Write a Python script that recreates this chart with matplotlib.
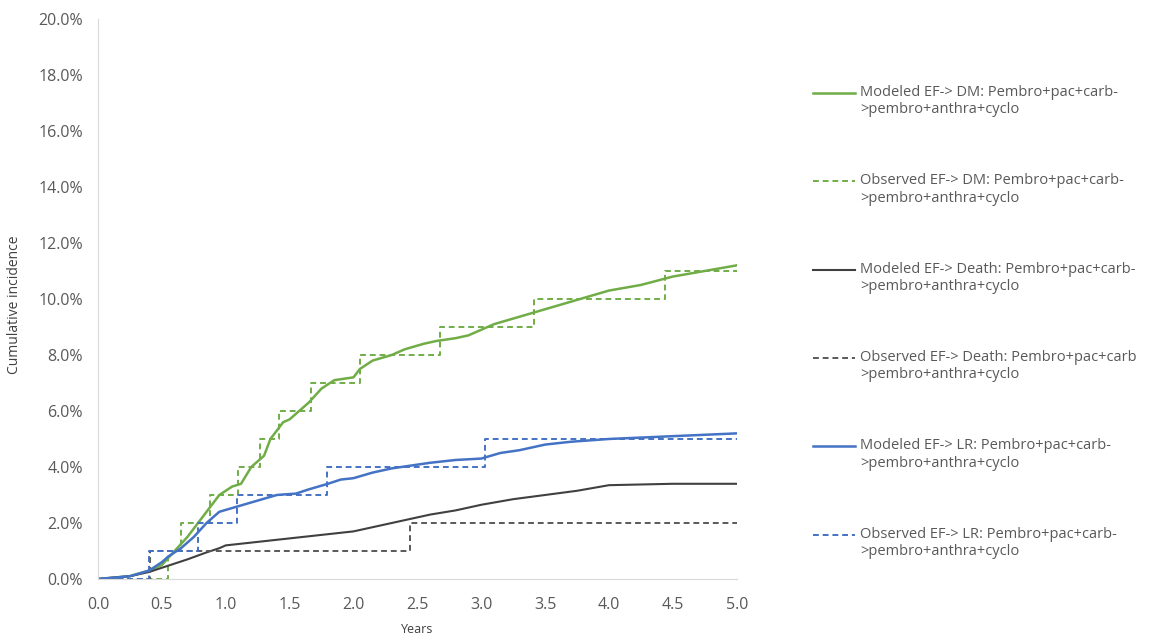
import numpy as np
import matplotlib.pyplot as plt
from matplotlib.ticker import PercentFormatter
from matplotlib.legend_handler import HandlerLine2D

plt.rcParams['font.family'] = ['Open Sans', 'DejaVu Sans']

# Modeled curves (years, cumulative incidence %)
dm_mod_t = [0, 0.25, 0.4, 0.5, 0.6, 0.7, 0.8, 0.9, 0.95, 1.05, 1.12, 1.2, 1.3, 1.35, 1.45, 1.5, 1.6, 1.65, 1.75, 1.85, 2.0, 2.05, 2.15, 2.3, 2.4, 2.55, 2.65, 2.8, 2.9, 3.0, 3.1, 3.25, 3.4, 3.55, 3.7, 3.85, 4.0, 4.25, 4.5, 4.75, 5.0]
dm_mod_v = [0, 0.1, 0.3, 0.5, 1.0, 1.5, 2.1, 2.7, 3.0, 3.3, 3.4, 4.0, 4.4, 5.0, 5.6, 5.7, 6.1, 6.3, 6.8, 7.1, 7.2, 7.5, 7.8, 8.0, 8.2, 8.4, 8.5, 8.6, 8.7, 8.9, 9.1, 9.3, 9.5, 9.7, 9.9, 10.1, 10.3, 10.5, 10.8, 11.0, 11.2]

death_mod_t = [0, 0.25, 0.4, 0.5, 0.6, 0.7, 0.85, 0.95, 1.0, 1.2, 1.4, 1.6, 1.8, 2.0, 2.15, 2.3, 2.45, 2.6, 2.8, 3.0, 3.25, 3.5, 3.75, 4.0, 4.5, 5.0]
death_mod_v = [0, 0.1, 0.25, 0.4, 0.55, 0.7, 0.95, 1.1, 1.2, 1.3, 1.4, 1.5, 1.6, 1.7, 1.85, 2.0, 2.15, 2.3, 2.45, 2.65, 2.85, 3.0, 3.15, 3.35, 3.4, 3.4]

lr_mod_t = [0, 0.25, 0.4, 0.5, 0.55, 0.65, 0.75, 0.85, 0.95, 1.1, 1.25, 1.4, 1.55, 1.65, 1.8, 1.9, 2.0, 2.15, 2.3, 2.45, 2.6, 2.8, 3.0, 3.15, 3.3, 3.5, 3.7, 4.0, 4.5, 5.0]
lr_mod_v = [0, 0.1, 0.3, 0.6, 0.8, 1.1, 1.5, 2.0, 2.4, 2.6, 2.8, 3.0, 3.05, 3.2, 3.4, 3.55, 3.6, 3.8, 3.95, 4.05, 4.15, 4.25, 4.3, 4.5, 4.6, 4.8, 4.9, 5.0, 5.1, 5.2]

# Observed step curves (jump times, levels after jump)
dm_obs_t = [0, 0.55, 0.65, 0.88, 1.1, 1.27, 1.42, 1.67, 2.05, 2.68, 3.41, 4.44, 5.0]
dm_obs_v = [0, 1, 2, 3, 4, 5, 6, 7, 8, 9, 10, 11, 11]

death_obs_t = [0, 0.41, 2.44, 5.0]
death_obs_v = [0, 1, 2, 2]

lr_obs_t = [0, 0.4, 0.78, 1.09, 1.79, 3.03, 5.0]
lr_obs_v = [0, 1, 2, 3, 4, 5, 5]

labels = [
    "Modeled EF-> DM: Pembro+pac+carb-\n>pembro+anthra+cyclo",
    "Observed EF-> DM: Pembro+pac+carb-\n>pembro+anthra+cyclo",
    "Modeled EF-> Death: Pembro+pac+carb-\n>pembro+anthra+cyclo",
    "Observed EF-> Death: Pembro+pac+carb\n>pembro+anthra+cyclo",
    "Modeled EF-> LR: Pembro+pac+carb-\n>pembro+anthra+cyclo",
    "Observed EF-> LR: Pembro+pac+carb-\n>pembro+anthra+cyclo",
]

green = '#70AD47'
dark = '#404040'
gray = '#595959'
blue = '#4472C4'


class FirstLineHandler(HandlerLine2D):
    # put the legend line level with the first text line (Excel style)
    def create_artists(self, legend, orig_handle, xdescent, ydescent,
                       width, height, fontsize, trans):
        arts = super().create_artists(legend, orig_handle, xdescent, ydescent,
                                      width, height, fontsize, trans)
        for a in arts:
            a.set_ydata(np.asarray(a.get_ydata()) + 0.6 * fontsize)
        return arts


fig = plt.figure(figsize=(11.51, 6.35), dpi=100)
ax = fig.add_axes([0.0851, 0.0882, 0.555, 0.882])

ax.plot(dm_mod_t, dm_mod_v, color=green, lw=1.8, label=labels[0])
ax.step(dm_obs_t, dm_obs_v, where='post', color=green, lw=1.4, ls=(0, (3, 2)), label=labels[1])
ax.plot(death_mod_t, death_mod_v, color=dark, lw=1.5, label=labels[2])
ax.step(death_obs_t, death_obs_v, where='post', color=gray, lw=1.4, ls=(0, (3, 2)), label=labels[3])
ax.plot(lr_mod_t, lr_mod_v, color=blue, lw=1.8, label=labels[4])
ax.step(lr_obs_t, lr_obs_v, where='post', color=blue, lw=1.4, ls=(0, (3, 2)), label=labels[5])

ax.set_xlim(0, 5)
ax.set_ylim(0, 20)
ax.set_xticks(np.arange(0, 5.01, 0.5))
ax.set_xticklabels([f"{v:.1f}" for v in np.arange(0, 5.01, 0.5)])
ax.set_yticks(np.arange(0, 20.01, 2))
ax.yaxis.set_major_formatter(PercentFormatter(decimals=1))
ax.tick_params(axis='both', length=0, labelsize=11.5, colors='#595959')
ax.tick_params(axis='y', pad=11)
ax.tick_params(axis='x', pad=13)
for s in ['top', 'right']:
    ax.spines[s].set_visible(False)
for s in ['left', 'bottom']:
    ax.spines[s].set_color('#D9D9D9')

ax.set_xlabel('Years', fontsize=9, color='#404040', labelpad=7)
ax.set_ylabel('Cumulative incidence', fontsize=10, color='#404040')
ax.yaxis.set_label_coords(-0.119, 0.49)

handler = FirstLineHandler()
handles, labs = ax.get_legend_handles_labels()
leg = fig.legend(handles, labs, loc='upper left', bbox_to_anchor=(0.7063, 0.866),
                 frameon=False, fontsize=10.5, labelspacing=3.85, handlelength=2.9,
                 handletextpad=0.35, borderpad=0, borderaxespad=0,
                 labelcolor='#595959',
                 handler_map={h: handler for h in handles})

fig.savefig('out.png', dpi=100)
